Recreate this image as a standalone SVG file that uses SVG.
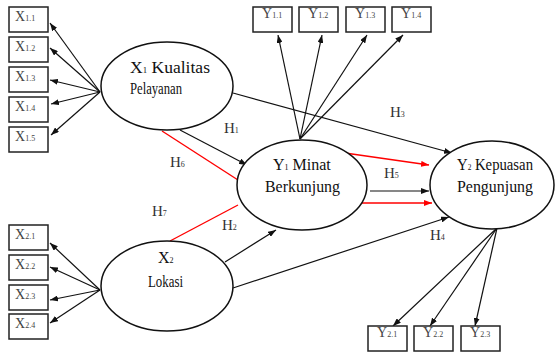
<svg xmlns="http://www.w3.org/2000/svg" width="557" height="354" viewBox="0 0 557 354">
<defs>
<marker id="ab" markerUnits="userSpaceOnUse" markerWidth="8" markerHeight="6" refX="8" refY="3" orient="auto"><path d="M0,0 L8,3 L0,6 z" fill="#111"/></marker>
<marker id="ar" markerUnits="userSpaceOnUse" markerWidth="8" markerHeight="6" refX="8" refY="3" orient="auto"><path d="M0,0 L8,3 L0,6 z" fill="#f00"/></marker>
</defs>
<style>
.box{fill:#fff;stroke:#222;stroke-width:1.5}
.ell{fill:#fff;stroke:#111;stroke-width:1.5}
text{font-family:'Liberation Serif','Times New Roman',serif}
.bl{fill:#444}
.m{font-size:14px}
.s{font-size:8px}
.t{font-size:16px;fill:#111}
.h{font-size:15px;fill:#333}
.hs{font-size:8px}
.cb{stroke:#111;stroke-width:1.2;fill:none;marker-end:url(#ab)}
.cr{stroke:#f00;stroke-width:1.4;fill:none}
.cra{stroke:#f00;stroke-width:1.4;fill:none;marker-end:url(#ar)}
</style>
<rect width="557" height="354" fill="#fff"/>
<g id="connectors">
<line class="cb" x1="100" y1="92" x2="50" y2="23"/>
<line class="cb" x1="100" y1="92" x2="50" y2="48"/>
<line class="cb" x1="100" y1="92" x2="50" y2="80"/>
<line class="cb" x1="100" y1="92" x2="51" y2="104"/>
<line class="cb" x1="100" y1="92" x2="51" y2="135"/>
<line class="cb" x1="100" y1="290" x2="50" y2="243"/>
<line class="cb" x1="100" y1="290" x2="50" y2="267"/>
<line class="cb" x1="100" y1="290" x2="50" y2="300"/>
<line class="cb" x1="100" y1="290" x2="50" y2="323"/>
<line class="cb" x1="300" y1="139" x2="278" y2="35"/>
<line class="cb" x1="300" y1="139" x2="322" y2="35"/>
<line class="cb" x1="300" y1="139" x2="367" y2="35"/>
<line class="cb" x1="300" y1="139" x2="403" y2="35"/>
<line class="cb" x1="497" y1="228" x2="393" y2="326"/>
<line class="cb" x1="497" y1="228" x2="430" y2="326"/>
<line class="cb" x1="497" y1="228" x2="475" y2="326"/>
<line class="cb" x1="180" y1="130" x2="247" y2="165"/>
<line class="cr" x1="162" y1="131" x2="238" y2="180"/>
<line class="cr" x1="170" y1="241" x2="238" y2="205"/>
<line class="cb" x1="225" y1="262" x2="276" y2="230"/>
<line class="cb" x1="233" y1="93" x2="452" y2="153"/>
<line class="cb" x1="233" y1="288" x2="449" y2="217"/>
<line class="cra" x1="345" y1="153" x2="429" y2="165"/>
<line class="cb" x1="370" y1="191" x2="429" y2="191"/>
<line class="cra" x1="362" y1="203" x2="432" y2="203"/>
</g>
<g id="X1">
<ellipse class="ell" cx="167" cy="86" rx="66" ry="44"/>
<text class="t" x="130" y="73" textLength="80" lengthAdjust="spacingAndGlyphs">X<tspan font-size="8">1</tspan> Kualitas</text>
<text class="t" x="130" y="94" textLength="52" lengthAdjust="spacingAndGlyphs">Pelayanan</text>
</g>
<g id="X2">
<ellipse class="ell" cx="167" cy="286" rx="66" ry="45"/>
<text class="t" x="158" y="263">X<tspan font-size="8">2</tspan></text>
<text class="t" x="148" y="287" textLength="35" lengthAdjust="spacingAndGlyphs">Lokasi</text>
</g>
<g id="Y1">
<ellipse class="ell" cx="302" cy="185" rx="65" ry="45"/>
<text class="t" x="273" y="170">Y<tspan font-size="8">1</tspan> Minat</text>
<text class="t" x="265" y="192" textLength="75" lengthAdjust="spacingAndGlyphs">Berkunjung</text>
</g>
<g id="Y2">
<ellipse class="ell" cx="492" cy="185" rx="62" ry="44"/>
<text class="t" x="457" y="170" textLength="76" lengthAdjust="spacingAndGlyphs">Y<tspan font-size="8">2</tspan> Kepuasan</text>
<text class="t" x="457" y="192" textLength="76" lengthAdjust="spacingAndGlyphs">Pengunjung</text>
</g>
<g id="X1.1"><rect class="box" x="9" y="7" width="39" height="25"/><text class="bl" x="15" y="21"><tspan class="m">X</tspan><tspan class="s">1.1</tspan></text></g>
<g id="X1.2"><rect class="box" x="9" y="37" width="39" height="25"/><text class="bl" x="15" y="51"><tspan class="m">X</tspan><tspan class="s">1.2</tspan></text></g>
<g id="X1.3"><rect class="box" x="9" y="67" width="39" height="25"/><text class="bl" x="15" y="81"><tspan class="m">X</tspan><tspan class="s">1.3</tspan></text></g>
<g id="X1.4"><rect class="box" x="9" y="97" width="39" height="25"/><text class="bl" x="15" y="111"><tspan class="m">X</tspan><tspan class="s">1.4</tspan></text></g>
<g id="X1.5"><rect class="box" x="9" y="127" width="39" height="25"/><text class="bl" x="15" y="141"><tspan class="m">X</tspan><tspan class="s">1.5</tspan></text></g>
<g id="X2.1"><rect class="box" x="9" y="225" width="39" height="25"/><text class="bl" x="15" y="239"><tspan class="m">X</tspan><tspan class="s">2.1</tspan></text></g>
<g id="X2.2"><rect class="box" x="9" y="255" width="39" height="25"/><text class="bl" x="15" y="269"><tspan class="m">X</tspan><tspan class="s">2.2</tspan></text></g>
<g id="X2.3"><rect class="box" x="9" y="285" width="39" height="25"/><text class="bl" x="15" y="299"><tspan class="m">X</tspan><tspan class="s">2.3</tspan></text></g>
<g id="X2.4"><rect class="box" x="9" y="314" width="39" height="25"/><text class="bl" x="15" y="328"><tspan class="m">X</tspan><tspan class="s">2.4</tspan></text></g>
<g id="Y1.1"><rect class="box" x="253" y="7" width="39" height="25"/><text class="bl" x="262" y="18"><tspan class="m">Y</tspan><tspan class="s">1.1</tspan></text></g>
<g id="Y1.2"><rect class="box" x="299" y="7" width="39" height="25"/><text class="bl" x="308" y="18"><tspan class="m">Y</tspan><tspan class="s">1.2</tspan></text></g>
<g id="Y1.3"><rect class="box" x="346" y="7" width="39" height="25"/><text class="bl" x="355" y="18"><tspan class="m">Y</tspan><tspan class="s">1.3</tspan></text></g>
<g id="Y1.4"><rect class="box" x="392" y="7" width="39" height="25"/><text class="bl" x="401" y="18"><tspan class="m">Y</tspan><tspan class="s">1.4</tspan></text></g>
<g id="Y2.1"><rect class="box" x="368" y="326" width="39" height="25"/><text class="bl" x="377" y="337"><tspan class="m">Y</tspan><tspan class="s">2.1</tspan></text></g>
<g id="Y2.2"><rect class="box" x="414" y="326" width="39" height="25"/><text class="bl" x="423" y="337"><tspan class="m">Y</tspan><tspan class="s">2.2</tspan></text></g>
<g id="Y2.3"><rect class="box" x="461" y="326" width="39" height="25"/><text class="bl" x="470" y="337"><tspan class="m">Y</tspan><tspan class="s">2.3</tspan></text></g>
<g id="labels">
<text class="h" x="224" y="133">H<tspan class="hs">1</tspan></text>
<text class="h" x="170" y="167">H<tspan class="hs">6</tspan></text>
<text class="h" x="152" y="216">H<tspan class="hs">7</tspan></text>
<text class="h" x="222" y="230">H<tspan class="hs">2</tspan></text>
<text class="h" x="390" y="117">H<tspan class="hs">3</tspan></text>
<text class="h" x="384" y="178">H<tspan class="hs">5</tspan></text>
<text class="h" x="430" y="240">H<tspan class="hs">4</tspan></text>
</g>
</svg>
